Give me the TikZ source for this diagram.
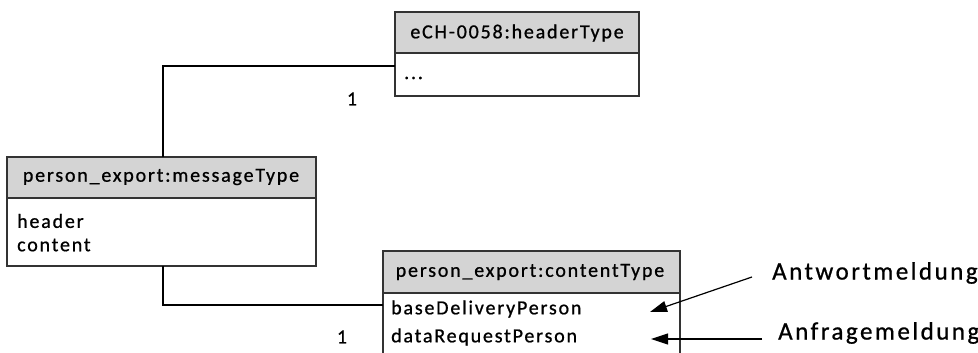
\documentclass[tikz,border=0pt]{standalone}
\usepackage{fontspec}
\setmainfont{Carlito}[LetterSpace=9,FakeBold=0.8]
\usetikzlibrary{arrows.meta,calc}
\definecolor{titlegray}{HTML}{D4D4D4}
\definecolor{boxline}{HTML}{333333}
\begin{document}
\begin{tikzpicture}[x=1pt,y=-1pt,
  titlebox/.style={draw=boxline,line width=1.6pt,fill=titlegray,inner sep=0pt},
  bodybox/.style={draw=boxline,line width=1.6pt,fill=white,inner sep=0pt},
  txt/.style={font=\fontsize{20}{24}\selectfont,inner sep=0pt,anchor=west},
  ttl/.style={font=\fontsize{20}{24}\selectfont,inner sep=0pt},
  lbl/.style={font=\fontsize{25}{30}\selectfont\addfontfeature{LetterSpace=10},inner sep=0pt,anchor=west},
  conn/.style={draw=black,line width=1.4pt},
  pointer/.style={draw=black,line width=1.2pt,-{Triangle[length=17pt,width=11pt]}}]
\useasboundingbox (0,0) rectangle (978,353);
\clip (0,0) rectangle (978,353);
\fill[white] (0,0) rectangle (978,353);
% header type box
\path[bodybox] (395,53) rectangle (639,96);
\path[titlebox] (395,12) rectangle (639,53);
\node[ttl] (hdrtitle) at (517,33) {eCH-0058:headerType};
\node[txt] (hdrdots) at (404,78) {...};
% message type box
\path[bodybox] (7,198) rectangle (316,266);
\path[titlebox] (7,157) rectangle (316,198);
\node[ttl] (msgtitle) at (161,177) {person\_export:messageType};
\node[txt] (msgheader) at (17,221) {header};
\node[txt] (msgcontent) at (17,245) {content};
% content type box
\path[bodybox] (383,293) rectangle (680,380);
\path[titlebox] (383,251) rectangle (680,293);
\node[ttl] (cnttitle) at (530,272) {person\_export:contentType};
\node[txt] (cntbase) at (391,309) {baseDeliveryPerson};
\node[txt] (cntreq) at (391,337) {dataRequestPerson};
% anchors for connectors
\coordinate (msgtop) at (163,157);
\coordinate (msgbot) at (163,266);
\coordinate (hdrin) at (395,66);
\coordinate (cntin) at (383,305);
\draw[conn] (msgtop) |- (hdrin);
\draw[conn] (msgbot) |- (cntin);
\node[txt,anchor=center] (mult1) at (352,99) {1};
\node[txt,anchor=center] (mult2) at (342,337) {1};
% labels with pointers
\node[lbl] (antwort) at (772,273) {Antwortmeldung};
\node[lbl] (anfrage) at (778,333) {Anfragemeldung};
\coordinate (antstart) at (752,277);
\coordinate (anttip) at (650,312);
\coordinate (anfstart) at (762,339);
\coordinate (anftip) at (651,339);
\draw[pointer] (antstart) -- (anttip);
\draw[pointer] (anfstart) -- (anftip);
\end{tikzpicture}
\end{document}
